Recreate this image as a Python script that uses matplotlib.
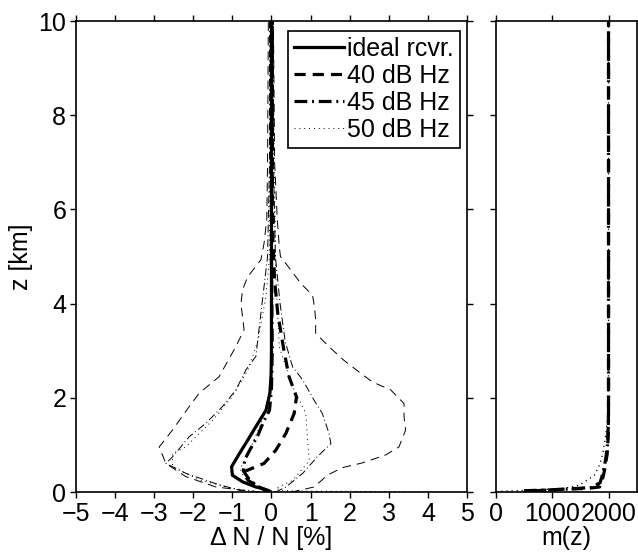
import matplotlib
matplotlib.use("Agg")
import matplotlib.pyplot as plt

plt.rcParams["font.family"] = ["Liberation Sans", "DejaVu Sans"]
plt.rcParams["font.size"] = 18

# ---------------------------------------------------------------------------
# Mean refractivity bias profiles (Delta N / N in %, z in km)
# ---------------------------------------------------------------------------
z_ideal = [0.0, 0.03, 0.08, 0.11, 0.22, 0.36, 0.54, 0.82, 1.1, 1.39, 1.74, 2.1, 2.5, 3.0, 4.0, 6.0, 8.0, 10.0]
dn_ideal = [-0.05, -0.06, -0.24, -0.4, -0.74, -1.0, -1.02, -0.82, -0.61, -0.4, -0.14, -0.04, -0.01, 0.0, 0.0, 0.0, 0.0, 0.0]

z_40 = [0.0, 0.1, 0.25, 0.43, 0.61, 0.89, 1.25, 1.67, 2.02, 2.45, 3.0, 3.8, 4.5, 5.5, 7.0, 10.0]
dn_40 = [0.0, -0.3, -0.6, -0.72, -0.19, 0.11, 0.37, 0.58, 0.64, 0.45, 0.32, 0.16, 0.08, 0.03, 0.02, 0.02]

z_45 = [0.0, 0.1, 0.25, 0.45, 0.7, 0.9, 1.2, 1.5, 1.74, 2.2, 3.0, 5.0, 10.0]
dn_45 = [-0.05, -0.3, -0.55, -0.72, -0.68, -0.55, -0.35, -0.2, -0.05, 0.0, 0.02, 0.0, 0.0]

z_50 = [0.0, 0.1, 0.3, 0.5, 0.8, 1.1, 1.5, 2.0, 2.5, 3.0, 5.0, 10.0]
dn_50 = [0.0, -0.3, -0.7, -0.8, -0.6, -0.45, -0.25, -0.08, -0.02, 0.0, 0.0, 0.0]

# Spread envelopes (mean +/- std)
z_40_lo = [0.0, 0.11, 0.33, 0.61, 0.96, 1.32, 1.82, 2.1, 2.45, 3.09, 3.45, 4.0, 4.29, 4.57, 4.93, 5.28, 5.8, 7.0, 10.0]
dn_40_lo = [-0.3, -1.42, -2.19, -2.7, -2.87, -2.53, -2.1, -1.85, -1.34, -0.91, -0.7, -0.78, -0.74, -0.61, -0.27, -0.19, -0.12, -0.1, -0.08]
z_40_hi = [0.0, 0.11, 0.36, 0.52, 0.62, 0.79, 0.96, 1.32, 1.6, 1.88, 2.17, 2.34, 2.55, 2.8, 3.05, 3.37, 3.65, 3.93, 4.18, 4.43, 4.71, 5.0, 5.21, 5.77, 7.0, 10.0]
dn_40_hi = [0.5, 1.09, 1.43, 1.81, 2.32, 2.92, 3.26, 3.43, 3.39, 3.39, 3.05, 2.58, 2.24, 1.85, 1.52, 1.13, 1.13, 1.1, 1.05, 0.75, 0.5, 0.23, 0.2, 0.15, 0.08, 0.05]

z_45_lo = [0.0, 0.04, 0.18, 0.4, 0.61, 0.75, 1.18, 1.46, 1.82, 2.17, 2.6, 2.88, 3.8, 5.0, 7.0, 10.0]
dn_45_lo = [-0.3, -0.82, -1.42, -2.19, -2.7, -2.53, -2.1, -1.68, -1.25, -0.91, -0.65, -0.4, -0.27, -0.1, -0.05, -0.05]
z_45_hi = [0.0, 0.11, 0.4, 0.75, 1.03, 1.25, 1.67, 1.95, 2.38, 2.66, 3.2, 4.0, 5.0, 7.0, 10.0]
dn_45_hi = [0.1, 0.37, 0.8, 1.17, 1.52, 1.47, 1.3, 1.09, 0.8, 0.54, 0.35, 0.22, 0.1, 0.05, 0.05]

z_50_lo = [0.0, 0.08, 0.26, 0.54, 0.82, 0.96, 1.53, 2.03, 2.6, 3.2, 4.16, 5.0, 10.0]
dn_50_lo = [-0.2, -1.0, -1.85, -2.53, -2.53, -2.19, -1.5, -1.0, -0.6, -0.35, -0.14, -0.05, -0.03]
z_50_hi = [0.0, 0.03, 0.08, 0.25, 0.67, 1.1, 1.67, 2.24, 3.08, 4.6, 10.0]
dn_50_hi = [4.4, 0.3, 0.11, 0.54, 0.97, 0.92, 0.88, 0.54, 0.2, 0.11, 0.03]

# m(z) profiles
mz_40 = [0.03, 0.06, 0.08, 0.11, 0.2, 0.47, 0.8, 1.2, 2.0, 10.0]
m_40 = [700, 1150, 1630, 1840, 1880, 1930, 1975, 1995, 2000, 2000]
mz_45 = [0.03, 0.06, 0.1, 0.2, 0.4, 0.7, 1.0, 1.5, 10.0]
m_45 = [500, 1200, 1700, 1850, 1900, 1950, 1980, 2000, 2000]
mz_50 = [0.02, 0.05, 0.09, 0.15, 0.36, 0.6, 0.83, 1.2, 1.6, 2.5, 10.0]
m_50 = [100, 800, 1250, 1490, 1750, 1850, 1900, 1950, 1985, 2000, 2000]

LW_THICK = 2.3
LW_THIN = 0.7

fig = plt.figure(figsize=(6.38, 5.53), dpi=100)
ax = fig.add_axes([0.119, 0.110, 0.613, 0.852])
ax2 = fig.add_axes([0.777, 0.110, 0.221, 0.852])

# thin envelopes
ax.plot(dn_40_lo, z_40_lo, color="k", lw=LW_THIN, ls=(0, (9, 6)))
ax.plot(dn_40_hi, z_40_hi, color="k", lw=LW_THIN, ls=(0, (9, 6)))
ax.plot(dn_45_lo, z_45_lo, color="k", lw=LW_THIN, ls=(0, (8, 3, 1, 3)))
ax.plot(dn_45_hi, z_45_hi, color="k", lw=LW_THIN, ls=(0, (8, 3, 1, 3)))
ax.plot(dn_50_lo, z_50_lo, color="k", lw=LW_THIN, ls=(0, (1, 4)))
ax.plot(dn_50_hi, z_50_hi, color="k", lw=LW_THIN, ls=(0, (1, 4)))

# means
ax.plot(dn_50, z_50, color="k", lw=LW_THIN, ls=(0, (1, 4)), label="50 dB Hz")
ax.plot(dn_45, z_45, color="k", lw=LW_THICK, ls=(0, (4, 1.5, 0.6, 1.5)), label="45 dB Hz")
ax.plot(dn_40, z_40, color="k", lw=LW_THICK, ls=(0, (3.5, 2.2)), label="40 dB Hz")
ax.plot(dn_ideal, z_ideal, color="k", lw=LW_THICK, ls="-", label="ideal rcvr.")

ax.set_xlim(-5, 5)
ax.set_ylim(0, 10)
ax.set_xticks(range(-5, 6))
ax.set_yticks(range(0, 11, 2))
ax.set_xlabel("Δ N / N [%]", labelpad=0)
ax.set_ylabel("z [km]", labelpad=4)
ax.tick_params(direction="out", length=4, width=1, top=True, right=True, pad=3)

handles, labels = ax.get_legend_handles_labels()
order = [3, 2, 1, 0]
leg = ax.legend([handles[i] for i in order], [labels[i] for i in order],
                loc="upper right", bbox_to_anchor=(0.982, 0.979), borderaxespad=0,
                fancybox=False, framealpha=1, edgecolor="k", handlelength=2.0,
                handletextpad=0.12, labelspacing=0.12, borderpad=0.25)
leg.get_frame().set_linewidth(1.2)

# right panel
ax2.plot(m_50, mz_50, color="k", lw=LW_THIN * 1.3, ls=(0, (1, 3)))
ax2.plot(m_40, mz_40, color="k", lw=LW_THICK, ls=(0, (3.5, 2.2)))
ax2.plot(m_45, mz_45, color="k", lw=LW_THICK, ls=(0, (4, 1.5, 0.6, 1.5)))
ax2.set_xlim(0, 2500)
ax2.set_ylim(0, 10)
ax2.set_xticks([0, 1000, 2000])
ax2.set_yticks(range(0, 11, 2))
ax2.set_yticklabels([])
ax2.set_xlabel("m(z)", labelpad=0)
ax2.tick_params(direction="out", length=4, width=1, top=True, pad=3)

for a in (ax, ax2):
    for s in a.spines.values():
        s.set_linewidth(1.2)

fig.savefig("out.png", dpi=100)
